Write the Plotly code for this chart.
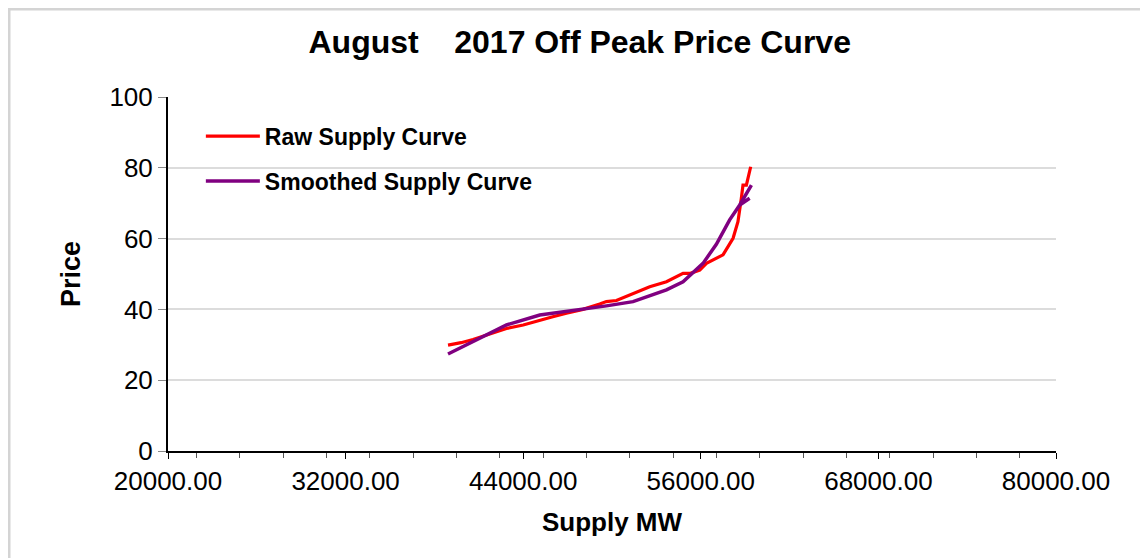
import plotly.graph_objects as go

raw_mw = [38920, 39800, 40610, 41700, 42870, 44000, 45120, 46000, 46920, 48040,
          49170, 49620, 50300, 51000, 51420, 52550, 53680, 54800, 55300, 55930,
          56380, 57050, 57500, 58180, 58510, 58740, 58850, 59080, 59190, 59370]
raw_price = [29.9, 30.6, 31.5, 33.0, 34.6, 35.6, 37.0, 37.9, 38.9, 40.0,
             41.5, 42.2, 42.5, 43.7, 44.5, 46.4, 47.8, 50.2, 50.2, 51.1,
             53.0, 54.4, 55.4, 60.1, 64.8, 71.4, 75.1, 75.1, 77.0, 80.3]

smooth_mw = [38920, 40610, 42870, 45120, 47370, 49620, 51420, 53680, 54800, 55930,
             56150, 57050, 57950, 58630, 59420, 58630, 59300]
smooth_price = [27.4, 30.9, 35.6, 38.4, 39.6, 41.0, 42.2, 45.5, 47.8, 52.1,
                53.0, 58.4, 65.3, 69.5, 75.1, 69.5, 71.4]

x_ticks = [20000, 32000, 44000, 56000, 68000, 80000]
y_ticks = [0, 20, 40, 60, 80, 100]

FONT = "Liberation Sans, Arial, sans-serif"

fig = go.Figure()
fig.add_trace(go.Scatter(x=raw_mw, y=raw_price, mode="lines", name="<b>Raw Supply Curve</b>",
                         legendgroup="a", line=dict(color="#ff0000", width=3.2)))
fig.add_trace(go.Scatter(x=smooth_mw, y=smooth_price, mode="lines", name="<b>Smoothed Supply Curve</b>",
                         legendgroup="b", line=dict(color="#800080", width=3.5)))

fig.update_layout(
    width=1148, height=558,
    margin=dict(l=160, r=100, t=89, b=115),
    paper_bgcolor="white", plot_bgcolor="white",
    font=dict(family=FONT, color="black"),
    title=dict(text="<b>August    2017 Off Peak Price Curve</b>", x=0.498, xanchor="center",
               y=0.939, yanchor="middle", font=dict(size=32, family=FONT, color="black")),
    showlegend=True,
    legend=dict(x=0.037, y=0.95, xanchor="left", yanchor="top", bgcolor="rgba(0,0,0,0)",
                font=dict(size=23, family=FONT, color="black"), tracegroupgap=12,
                itemwidth=54),
    shapes=[dict(type="rect", xref="paper", yref="paper",
                 x0=(1 - 160) / 888, x1=1.3, y0=-0.5, y1=(443 - 1) / 354,
                 line=dict(color="#d4d4d4", width=3), layer="below")],
)

fig.update_xaxes(
    range=[20000, 80000], tickvals=x_ticks, ticktext=[f"{v:.2f}" for v in x_ticks],
    showgrid=False, zeroline=False, showline=True, linecolor="black", linewidth=2,
    ticks="outside", ticklen=6, tickcolor="black", tickwidth=1,
    tickfont=dict(size=26, family=FONT, color="black"),
    minor=dict(ticks="outside", ticklen=5, tickcolor="#555555", tick0=21919, dtick=2928, showgrid=False),
    title=dict(text="<b>Supply MW</b>", font=dict(size=26, family=FONT, color="black"), standoff=18),
)
fig.update_yaxes(
    range=[0, 100], tickvals=y_ticks,
    showgrid=True, gridcolor="#dcdcdc", gridwidth=2, zeroline=False,
    showline=True, linecolor="black", linewidth=2,
    ticks="outside", ticklen=8, tickcolor="#888888", tickwidth=1,
    tickfont=dict(size=26, family=FONT, color="black"),
    title=dict(text="<b>Price</b>", font=dict(size=27, family=FONT, color="black"), standoff=21),
)

fig.write_html("out.html")
